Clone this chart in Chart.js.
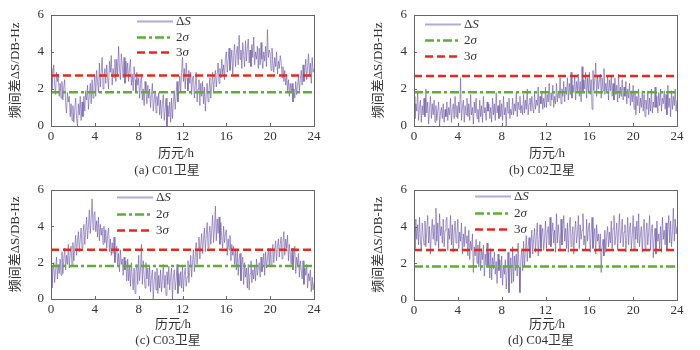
<!DOCTYPE html>
<html>
<head>
<meta charset="utf-8">
<script src="https://cdn.jsdelivr.net/npm/chart.js@4/dist/chart.umd.min.js"></script>
<style>
	body { margin: 0; background: #fff; }
	#wrap { position: relative; width: 700px; height: 350px; overflow: hidden; }
	.panel { position: absolute; width: 350px; height: 175px; }
	.label { position: absolute; font-family: "Liberation Serif", "Noto Sans CJK SC", serif; font-size: 13px; color: #333; white-space: nowrap; transform: translateX(-50%); line-height: 1; }
</style>
</head>
<body>
<div id="wrap">
	<div class="panel" style="left:0;top:0"><canvas id="chart-c01"></canvas></div>
	<div class="panel" style="left:350px;top:0"><canvas id="chart-c02"></canvas></div>
	<div class="panel" style="left:0;top:175px"><canvas id="chart-c03"></canvas></div>
	<div class="panel" style="left:350px;top:175px"><canvas id="chart-c04"></canvas></div>

	<div class="label" style="left:176px;top:146px">历元/h</div>
	<div class="label" style="left:167px;top:163px">(a) C01卫星</div>
	<div class="label" style="left:547px;top:146px">历元/h</div>
	<div class="label" style="left:542px;top:163px">(b) C02卫星</div>
	<div class="label" style="left:173px;top:317px">历元/h</div>
	<div class="label" style="left:168px;top:333px">(c) C03卫星</div>
	<div class="label" style="left:547px;top:317px">历元/h</div>
	<div class="label" style="left:541px;top:333px">(d) C04卫星</div>
</div>

<script>
// epochs: 12 samples per hour, 0 .. 24 h
const hours = Array.from({ length: 289 }, (_, i) => i / 12);
const xTicks = [0, 4, 8, 12, 16, 20, 24];
const yTicks = [0, 2, 4, 6];

// ΔS, one row per hour
const deltaS_C01 = [
	3.1, 2.0, 2.8, 3.3, 2.2, 1.7, 2.9, 2.4, 2.8, 1.6, 2.3, 1.5,
	2.4, 1.4, 2.1, 2.5, 1.2, 0.7, 1.8, 1.3, 1.6, 0.5, 1.2, 0.3,
	1.1, 0.2, 0.9, 1.5, 0.4, 0.0, 1.2, 0.6, 1.6, 0.3, 1.3, 0.5,
	1.6, 0.8, 1.9, 1.4, 2.2, 0.9, 1.7, 2.3, 1.2, 2.5, 1.5, 2.1,
	2.7, 1.6, 3.0, 2.4, 1.8, 3.4, 2.1, 2.9, 3.7, 2.0, 2.6, 3.1,
	2.3, 3.3, 2.6, 2.0, 3.5, 2.9, 3.8, 2.2, 3.1, 2.6, 3.6, 2.4,
	3.6, 2.7, 4.3, 3.1, 2.5, 3.9, 3.3, 2.6, 3.7, 2.3, 3.5, 2.8,
	3.4, 2.4, 3.1, 3.6, 2.2, 2.8, 1.9, 3.2, 2.5, 1.8, 2.9, 2.2,
	2.6, 1.5, 2.3, 2.8, 1.4, 2.0, 1.1, 2.4, 1.9, 1.2, 2.2, 1.5,
	2.0, 1.0, 1.7, 2.3, 0.8, 1.4, 1.9, 0.7, 1.6, 1.1, 1.8, 0.6,
	1.4, 0.4, 1.2, 1.7, 0.3, 0.9, 1.5, 0.0, 1.1, 0.5, 1.3, 0.2,
	1.5, 0.4, 1.3, 1.9, 0.9, 1.6, 2.4, 1.3, 2.0, 2.7, 1.8, 2.9,
	3.7, 2.4, 3.1, 2.0, 3.4, 2.6, 1.9, 3.0, 2.3, 2.9, 1.7, 2.6,
	2.7, 1.5, 2.2, 2.9, 1.3, 2.0, 2.5, 1.1, 2.3, 1.6, 2.4, 1.2,
	2.1, 0.8, 1.7, 2.3, 1.3, 1.9, 2.6, 1.5, 2.2, 2.9, 1.8, 2.5,
	3.0, 2.1, 2.8, 3.4, 2.3, 3.1, 2.6, 3.6, 2.8, 3.3, 2.5, 3.7,
	4.0, 2.9, 3.6, 4.2, 3.0, 3.5, 4.1, 2.8, 3.8, 4.4, 3.2, 3.9,
	4.3, 3.3, 4.9, 3.6, 4.1, 3.1, 4.5, 3.8, 3.2, 4.6, 3.5, 4.2,
	4.7, 3.4, 4.1, 3.2, 4.4, 3.7, 4.8, 3.3, 4.0, 3.6, 4.3, 3.1,
	4.2, 3.3, 4.5, 3.6, 3.1, 4.0, 3.5, 4.3, 3.2, 5.2, 3.7, 4.1,
	3.9, 3.0, 4.2, 3.4, 2.9, 3.7, 3.2, 4.0, 2.8, 3.5, 3.1, 3.8,
	3.5, 2.6, 3.2, 2.4, 3.0, 2.2, 2.8, 1.9, 2.5, 1.6, 2.3, 1.8,
	2.3, 1.3, 2.0, 1.5, 2.4, 1.7, 2.2, 2.7, 1.9, 2.5, 3.0, 2.2,
	3.3, 2.4, 3.0, 3.6, 2.5, 3.2, 3.9, 2.7, 3.4, 2.3, 3.7, 2.9,
	3.1
];
const deltaS_C02 = [
	1.6, 0.4, 1.2, 0.8, 1.9, 0.3, 1.0, 1.4, 0.2, 1.1, 0.6, 1.5,
	0.5, 2.0, 0.7, 1.3, 0.1, 0.9, 1.6, 0.4, 1.2, 0.6, 1.4, 0.2,
	1.1, 0.3, 0.8, 1.3, 0.0, 0.7, 1.0, 0.4, 1.2, 0.2, 0.9, 0.5,
	1.3, 0.3, 1.0, 0.6, 1.5, 0.2, 0.9, 1.2, 0.4, 1.6, 0.5, 1.1,
	0.4, 1.3, 0.7, 2.6, 0.3, 1.0, 1.4, 0.2, 1.1, 0.6, 1.5, 0.5,
	1.2, 0.3, 1.7, 0.6, 1.0, 0.1, 1.3, 0.7, 1.5, 0.4, 0.9, 0.2,
	1.4, 0.5, 1.1, 0.2, 1.6, 0.7, 1.0, 0.3, 1.3, 0.8, 1.2, 0.4,
	1.0, 0.2, 1.5, 0.6, 1.2, 0.3, 1.8, 0.7, 1.1, 0.4, 1.4, 0.5,
	1.2, 0.3, 1.6, 0.6, 1.0, 0.0, 1.3, 0.7, 1.5, 0.4, 0.9, 0.6,
	1.5, 0.6, 1.2, 0.8, 1.8, 0.5, 1.3, 0.9, 1.6, 0.7, 1.1, 0.6,
	1.7, 0.7, 1.4, 0.9, 2.0, 0.6, 1.2, 1.5, 0.8, 1.6, 1.0, 0.7,
	1.8, 0.9, 1.4, 1.1, 2.1, 0.7, 1.6, 1.2, 1.9, 0.9, 1.5, 1.0,
	2.1, 1.0, 1.7, 1.3, 2.3, 1.1, 1.8, 1.4, 2.2, 1.0, 1.6, 1.2,
	2.3, 1.3, 1.9, 1.5, 2.6, 1.2, 2.0, 1.6, 2.4, 1.3, 2.1, 1.7,
	2.6, 1.4, 2.3, 1.7, 2.9, 1.5, 2.2, 1.8, 2.7, 1.4, 2.4, 1.9,
	2.8, 1.6, 2.4, 1.3, 3.2, 1.8, 2.5, 2.0, 2.9, 1.5, 2.6, 1.8,
	2.9, 1.7, 2.5, 0.9, 3.0, 1.9, 2.6, 3.4, 1.6, 2.7, 2.0, 2.4,
	2.8, 1.5, 2.6, 1.9, 3.1, 1.7, 2.3, 1.8, 2.7, 1.4, 2.5, 1.9,
	2.7, 1.6, 2.3, 1.4, 2.6, 1.7, 2.2, 1.3, 2.8, 1.5, 2.1, 1.6,
	2.5, 1.4, 2.1, 1.6, 2.4, 1.2, 2.0, 1.5, 2.3, 1.1, 1.9, 1.3,
	2.2, 0.9, 1.8, 0.6, 1.6, 1.1, 2.0, 0.7, 1.5, 1.0, 1.9, 0.8,
	1.7, 0.5, 1.4, 0.9, 1.9, 0.6, 1.5, 0.8, 2.0, 0.7, 1.3, 1.0,
	2.1, 1.0, 1.6, 0.7, 1.8, 1.1, 2.0, 0.8, 1.5, 1.2, 1.9, 0.9,
	1.7, 0.6, 2.2, 1.0, 1.5, 0.5, 1.9, 0.9, 1.6, 1.1, 2.0, 0.8,
	1.4
];
const deltaS_C03 = [
	1.8, 0.6, 1.4, 2.0, 0.9, 1.6, 2.3, 1.1, 1.9, 1.4, 2.2, 1.3,
	2.6, 1.4, 2.2, 2.8, 1.6, 2.4, 1.9, 3.0, 1.7, 2.5, 2.9, 1.8,
	3.1, 2.1, 2.8, 3.5, 2.4, 3.2, 3.7, 2.6, 3.3, 3.9, 2.8, 3.5,
	4.1, 3.0, 3.7, 4.5, 3.3, 4.0, 4.9, 3.6, 4.4, 5.5, 3.8, 4.6,
	4.8, 3.7, 4.3, 3.4, 4.5, 3.2, 4.1, 3.5, 3.9, 3.0, 4.0, 3.1,
	3.8, 2.8, 3.5, 3.9, 2.6, 3.3, 2.4, 3.1, 2.5, 3.4, 2.0, 2.7,
	2.9, 1.8, 2.5, 1.5, 2.7, 1.9, 2.2, 1.3, 2.3, 1.6, 2.1, 1.0,
	2.2, 1.0, 1.8, 0.7, 2.0, 1.2, 0.5, 1.7, 0.3, 1.5, 1.9, 0.8,
	2.4, 1.0, 1.6, 3.0, 0.8, 2.1, 1.3, 0.6, 2.0, 1.1, 1.7, 0.7,
	1.8, 0.4, 1.2, 1.6, 0.0, 1.0, 1.5, 0.5, 1.7, 0.3, 1.3, 0.6,
	1.6, 0.4, 1.1, 1.9, 0.6, 1.3, 0.2, 1.5, 0.8, 1.8, 0.5, 1.2,
	1.7, 0.0, 1.2, 1.6, 0.5, 1.0, 1.9, 0.3, 1.4, 0.7, 1.5, 0.6,
	1.8, 0.4, 1.3, 1.7, 0.7, 1.2, 2.1, 0.9, 1.6, 2.4, 1.2, 2.0,
	2.7, 1.5, 2.3, 3.1, 1.9, 2.8, 3.4, 2.2, 3.0, 3.6, 2.5, 3.3,
	3.9, 2.6, 3.5, 4.2, 2.8, 3.6, 4.0, 3.0, 3.8, 4.6, 3.1, 3.9,
	5.1, 3.2, 4.4, 3.6, 4.5, 3.0, 4.2, 3.3, 2.8, 4.0, 3.1, 3.6,
	3.8, 2.4, 3.3, 2.7, 3.5, 2.1, 3.0, 2.4, 2.9, 1.9, 2.7, 1.6,
	2.7, 1.3, 2.2, 2.5, 1.0, 1.9, 2.3, 0.8, 2.0, 1.2, 1.7, 0.6,
	1.9, 0.5, 1.4, 2.1, 0.9, 1.6, 1.1, 1.8, 1.0, 2.2, 1.3, 1.7,
	2.0, 1.2, 2.3, 1.5, 1.9, 2.5, 1.3, 2.6, 1.7, 2.2, 2.8, 1.8,
	2.8, 1.8, 2.5, 3.0, 2.0, 2.7, 3.2, 2.1, 2.9, 3.3, 2.3, 3.0,
	3.4, 2.2, 3.1, 3.7, 2.4, 3.3, 2.8, 3.5, 2.1, 3.0, 2.5, 1.9,
	2.8, 1.6, 2.4, 2.9, 1.4, 2.3, 1.8, 2.5, 1.2, 2.1, 1.6, 1.1,
	2.1, 0.8, 1.7, 1.3, 1.9, 0.6, 1.4, 1.0, 1.6, 0.4, 1.2, 0.5,
	0.9
];
const deltaS_C04 = [
	3.9, 2.8, 4.4, 3.3, 4.1, 3.0, 4.5, 3.2, 2.7, 4.2, 3.5, 3.0,
	4.3, 2.9, 3.8, 4.6, 3.1, 4.0, 2.5, 3.7, 4.4, 3.3, 4.1, 3.0,
	5.0, 3.2, 4.2, 2.8, 4.7, 3.5, 4.0, 3.1, 4.4, 2.9, 3.8, 4.3,
	4.5, 2.7, 3.9, 3.3, 4.6, 3.0, 4.1, 2.6, 3.7, 4.3, 3.1, 3.6,
	4.4, 2.8, 3.7, 3.2, 4.2, 2.5, 3.6, 2.9, 4.0, 3.1, 3.5, 2.4,
	3.8, 2.2, 3.2, 2.7, 3.6, 1.5, 2.9, 2.4, 3.3, 2.0, 3.0, 1.8,
	3.2, 1.6, 2.8, 2.2, 3.0, 1.3, 2.5, 1.9, 3.1, 1.8, 2.6, 1.2,
	2.8, 1.1, 2.3, 1.7, 2.6, 1.4, 2.1, 0.9, 2.5, 1.6, 2.2, 1.2,
	2.4, 0.8, 1.9, 1.4, 2.2, 0.6, 1.7, 2.6, 0.4, 1.5, 2.3, 0.9,
	2.9, 1.0, 2.4, 1.6, 2.5, 1.3, 3.1, 1.8, 0.4, 2.2, 2.8, 1.6,
	3.2, 1.8, 2.7, 3.5, 2.1, 2.9, 3.4, 2.3, 3.0, 3.8, 2.5, 3.3,
	3.9, 2.6, 3.5, 4.2, 2.4, 3.3, 4.1, 2.8, 3.6, 3.9, 2.7, 3.4,
	4.3, 2.8, 3.7, 4.0, 3.0, 4.5, 2.9, 3.6, 4.2, 3.1, 3.8, 2.6,
	4.7, 3.1, 4.1, 3.4, 2.7, 4.4, 3.0, 3.8, 4.6, 3.2, 3.9, 2.8,
	4.2, 2.6, 3.9, 4.5, 2.9, 3.5, 4.0, 2.5, 3.7, 4.3, 3.1, 3.6,
	4.6, 2.8, 4.1, 3.3, 3.8, 4.7, 3.0, 3.5, 2.7, 4.4, 3.2, 3.9,
	4.2, 2.6, 3.7, 4.5, 2.8, 3.4, 3.9, 2.5, 4.1, 3.2, 3.6, 2.7,
	3.6, 1.5, 2.9, 3.3, 2.4, 3.8, 2.6, 3.5, 4.0, 2.9, 3.7, 3.1,
	4.3, 2.8, 3.9, 4.6, 3.0, 3.5, 4.2, 2.7, 3.8, 4.7, 3.1, 3.6,
	4.4, 2.9, 3.7, 4.1, 2.6, 3.4, 4.5, 3.0, 3.9, 4.2, 2.8, 3.5,
	4.6, 2.7, 4.0, 3.3, 4.3, 3.1, 4.7, 2.9, 3.6, 4.0, 2.6, 3.8,
	4.4, 2.8, 3.6, 4.2, 3.0, 3.7, 4.6, 2.7, 3.9, 4.1, 2.3, 3.4,
	3.9, 2.5, 4.3, 3.2, 3.6, 2.8, 4.0, 2.6, 4.5, 3.3, 3.8, 3.0,
	4.2, 2.7, 3.8, 4.6, 3.1, 4.3, 2.9, 3.7, 5.0, 3.2, 4.4, 3.6,
	4.0
];

// thresholds per satellite: C01, C02, C03, C04
const sigma2 = [1.82, 1.82, 1.82, 1.82];
const sigma3 = [2.72, 2.70, 2.70, 2.72];

const FONT = "'Liberation Serif', 'Noto Sans CJK SC', serif";
const TEXT_COLOR = "#333";
const FRAME_COLOR = "#666";
const DS_COLOR = "rgba(100, 80, 160, 0.58)";
const DS_COLOR_ALT = "rgba(101, 80, 160, 0.58)";
const GREEN = "#5cb030";
const RED = "#e8281f";

// layout of each panel inside its 350x175 box
const panels = [
	{ canvas: "chart-c01", data: deltaS_C01, idx: 0, padLeft: 0, padTop: 11, padRight: 36, xAxisH: 49, legendX: 86, legendY: [6, 22, 37] },
	{ canvas: "chart-c02", data: deltaS_C02, idx: 1, padLeft: 13, padTop: 10, padRight: 23, xAxisH: 49, legendX: 11, legendY: [9, 25, 41] },
	{ canvas: "chart-c03", data: deltaS_C03, idx: 2, padLeft: 0, padTop: 8, padRight: 36, xAxisH: 51, legendX: 66, legendY: [7, 24, 40] },
	{ canvas: "chart-c04", data: deltaS_C04, idx: 3, padLeft: 13, padTop: 9, padRight: 23, xAxisH: 50, legendX: 61, legendY: [6, 23, 39] },
];

// frame around the plot area and inward ticks on bottom/left
const framePlugin = {
	id: "frame",
	afterDraw(chart) {
		const { ctx, chartArea: a, scales } = chart;
		ctx.save();
		ctx.strokeStyle = FRAME_COLOR;
		ctx.lineWidth = 1;
		ctx.strokeRect(Math.round(a.left) + 0.5, Math.round(a.top) + 0.5, Math.round(a.right - a.left), Math.round(a.bottom - a.top));
		ctx.beginPath();
		xTicks.forEach(function (v) {
			let px = Math.round(scales.x.getPixelForValue(v)) + 0.5;
			ctx.moveTo(px, a.bottom);
			ctx.lineTo(px, a.bottom - 3);
		});
		yTicks.forEach(function (v) {
			let py = Math.round(scales.y.getPixelForValue(v)) + 0.5;
			ctx.moveTo(a.left, py);
			ctx.lineTo(a.left + 3, py);
		});
		ctx.stroke();
		ctx.restore();
	},
};

// legend drawn inside the plot area
const legendPlugin = {
	id: "innerLegend",
	afterDraw(chart, args, opts) {
		const { ctx, chartArea: a } = chart;
		const x0 = a.left + opts.x;
		const entries = [
			{ color: "#b5a9d6", width: 2, dash: [], main: "Δ", ital: "S" },
			{ color: GREEN, width: 2.5, dash: [9, 3, 3, 3], main: "2", ital: "σ" },
			{ color: RED, width: 2.5, dash: [8, 4], main: "3", ital: "σ" },
		];
		ctx.save();
		entries.forEach(function (e, i) {
			let y = Math.round(a.top + opts.y[i]) + 0.5;
			ctx.strokeStyle = e.color;
			ctx.lineWidth = e.width;
			ctx.setLineDash(e.dash);
			ctx.beginPath();
			ctx.moveTo(x0, y);
			ctx.lineTo(x0 + 36, y);
			ctx.stroke();
			ctx.setLineDash([]);
			ctx.fillStyle = TEXT_COLOR;
			ctx.textBaseline = "middle";
			ctx.font = "13px " + FONT;
			ctx.fillText(e.main, x0 + 39, y);
			let w = ctx.measureText(e.main).width;
			ctx.font = "italic 13px " + FONT;
			ctx.fillText(e.ital, x0 + 39 + w, y);
		});
		ctx.restore();
	},
};

function makeChart(p) {
	const points = hours.map(function (h, i) { return { x: h, y: p.data[i] }; });
	const s2 = sigma2[p.idx];
	const s3 = sigma3[p.idx];

	const data = {
		datasets: [
			{
				label: "3σ",
				data: [{ x: 0, y: s3 }, { x: 24, y: s3 }],
				borderColor: RED,
				borderWidth: 2.5,
				borderDash: [8, 4],
				pointRadius: 0,
				order: 1,
			},
			{
				label: "2σ",
				data: [{ x: 0, y: s2 }, { x: 24, y: s2 }],
				borderColor: GREEN,
				borderWidth: 2.5,
				borderDash: [9, 3, 3, 3],
				pointRadius: 0,
				order: 2,
			},
			{
				label: "ΔS",
				data: points,
				borderColor: DS_COLOR,
				borderWidth: 1,
				pointRadius: 0,
				order: 3,
				// alternate segment styles so each segment is stroked on its own and overlaps darken
				segment: {
					borderColor: function (c) { return c.p0DataIndex % 2 ? DS_COLOR : DS_COLOR_ALT; },
				},
			},
		],
	};

	return new Chart(document.getElementById(p.canvas), {
		type: "line",
		data: data,
		options: {
			responsive: true,
			maintainAspectRatio: false,
			animation: false,
			layout: { padding: { left: p.padLeft, top: p.padTop, right: p.padRight, bottom: 0 } },
			plugins: {
				legend: { display: false },
				tooltip: { enabled: false },
				innerLegend: { x: p.legendX, y: p.legendY },
			},
			scales: {
				x: {
					type: "linear",
					min: 0,
					max: 24,
					grid: { display: false, drawTicks: false },
					border: { display: false },
					afterFit: function (scale) { scale.height = p.xAxisH; },
					afterBuildTicks: function (scale) { scale.ticks = xTicks.map(function (v) { return { value: v }; }); },
					ticks: { padding: 3, color: TEXT_COLOR, font: { family: FONT, size: 13 }, maxRotation: 0 },
				},
				y: {
					min: 0,
					max: 6,
					grid: { display: false, drawTicks: false },
					border: { display: false },
					afterFit: function (scale) { scale.width = 51; },
					afterBuildTicks: function (scale) { scale.ticks = yTicks.map(function (v) { return { value: v }; }); },
					ticks: { padding: 7, color: TEXT_COLOR, font: { family: FONT, size: 13 } },
					title: {
						display: true,
						text: "频间差ΔS/DB-Hz",
						color: TEXT_COLOR,
						font: { family: FONT, size: 13 },
						padding: { top: 8, bottom: 0 },
					},
				},
			},
		},
		plugins: [framePlugin, legendPlugin],
	});
}

panels.forEach(makeChart);
</script>
</body>
</html>
